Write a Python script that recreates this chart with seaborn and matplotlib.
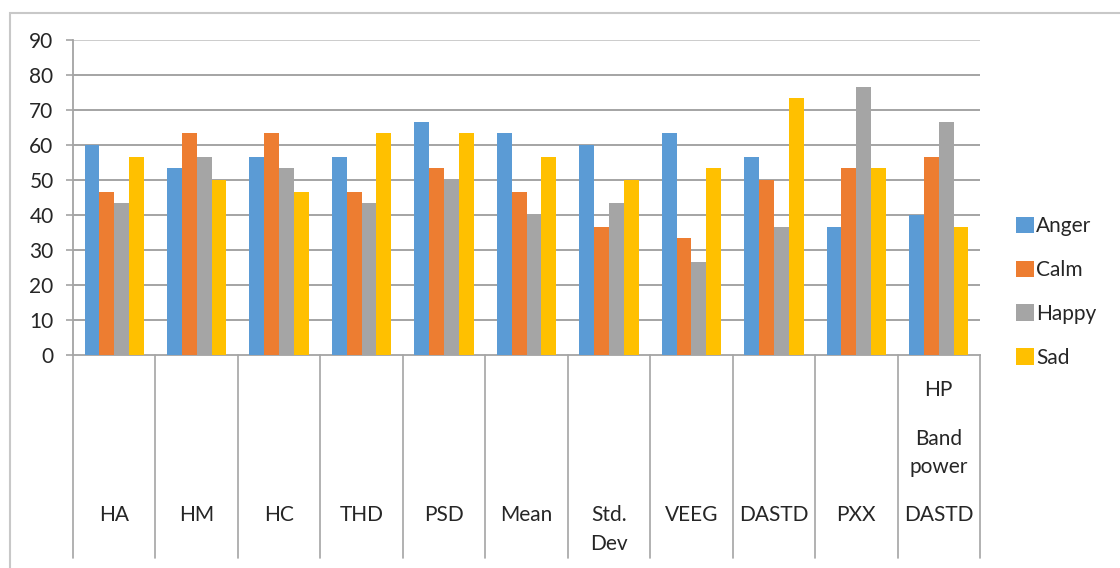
import matplotlib
matplotlib.use("Agg")
import matplotlib.pyplot as plt
import matplotlib.transforms as mtransforms
from matplotlib.patches import Rectangle
import numpy as np
import pandas as pd
import seaborn as sns

# Feature names along the category axis
categories = ["HA", "HM", "HC", "THD", "PSD", "Mean", "Std.\nDev", "VEEG",
              "DASTD", "PXX", "HP\nBand\npower\nDASTD"]
emotions = ["Anger", "Calm", "Happy", "Sad"]

# Classification accuracy (%) per feature and emotion
anger = [60.0, 53.3, 56.7, 56.7, 66.7, 63.3, 60.0, 63.3, 56.7, 36.7, 40.0]
calm = [46.7, 63.3, 63.3, 46.7, 53.3, 46.7, 36.7, 33.3, 50.0, 53.3, 56.7]
happy = [43.3, 56.7, 53.3, 43.3, 50.0, 40.0, 43.3, 26.7, 36.7, 76.7, 66.7]
sad = [56.7, 50.0, 46.7, 63.3, 63.3, 56.7, 50.0, 53.3, 73.3, 53.3, 36.7]

y_ticks = [0, 10, 20, 30, 40, 50, 60, 70, 80, 90]

colors = ["#5B9BD5", "#ED7D31", "#A5A5A5", "#FFC000"]

df = pd.DataFrame({
    "feature": [c for c in categories for _ in emotions],
    "emotion": emotions * len(categories),
    "value": [v for row in zip(anger, calm, happy, sad) for v in row],
})

sns.set_style("white")
plt.rcParams["font.family"] = ["Lato", "DejaVu Sans"]
FS = 15
TXT = "#262626"

fig = plt.figure(figsize=(11.2, 5.68), dpi=100)
ax = fig.add_axes([73 / 1120, 1 - 355 / 568, (980 - 73) / 1120, (355 - 40) / 568])

sns.barplot(data=df, x="feature", y="value", hue="emotion", order=categories,
            hue_order=emotions, palette=colors, width=0.72, saturation=1,
            edgecolor="none", linewidth=0, ax=ax, zorder=3)

ax.set_xlim(-0.5, len(categories) - 0.5)
ax.set_ylim(0, 90)
ax.set_yticks(y_ticks)
ax.set_yticklabels([str(t) for t in y_ticks], fontsize=FS, color=TXT)
ax.set_xticks([])
ax.set_xlabel("")
ax.set_ylabel("")

grid_col = "#a4a4a4"
for t in y_ticks[1:]:
    ax.axhline(t, color=grid_col if t < 90 else "#cccccc", lw=1.4, zorder=1)

for s in ["top", "right"]:
    ax.spines[s].set_visible(False)
ax.spines["left"].set_color(grid_col)
ax.spines["bottom"].set_color(grid_col)
ax.spines["left"].set_linewidth(1.3)
ax.spines["bottom"].set_linewidth(1.3)
ax.tick_params(axis="y", length=5, width=1.2, color=grid_col, pad=9, left=True)

# Category separators reaching down into the label area
trans = mtransforms.blended_transform_factory(ax.transData, ax.transAxes)
for b in np.arange(len(categories) + 1) - 0.5:
    ax.plot([b, b], [0, -0.645], transform=trans, color=grid_col, lw=1.2,
            clip_on=False, zorder=2)

# Category labels: line centres measured in pixels below the zero line
AX_H = 315.0
row_px = 158          # first line of the short names
line_px = 29          # wrapped line pitch
tall_px = [33, 82, 110, 158]   # stacked lines of the four-line name
for i, lab in enumerate(categories):
    lines = lab.split("\n")
    if len(lines) <= 2:
        ys = [row_px + k * line_px for k in range(len(lines))]
    else:
        ys = tall_px
    for ln, yp in zip(lines, ys):
        ax.text(i, -yp / AX_H, ln, transform=trans, ha="center",
                va="center_baseline", fontsize=FS, color=TXT)

# Legend on the right
handles, labels = ax.get_legend_handles_labels()
ax.legend(handles, labels, loc="center left",
          bbox_to_anchor=(1016 / 1120, 1 - 292 / 568),
          bbox_transform=fig.transFigure, frameon=False, fontsize=FS,
          handlelength=0.85, handleheight=0.85, handletextpad=0.1,
          labelspacing=1.15, borderpad=0, borderaxespad=0,
          labelcolor=TXT)

# Chart area frame
fig.patches.append(Rectangle((10 / 1120, -0.05), 1.2, 1 - 13 / 568 + 0.05,
                             transform=fig.transFigure, fill=False,
                             edgecolor="#c8c8c8", lw=1.5, zorder=0))

fig.savefig("out.png", dpi=100, facecolor="white")
